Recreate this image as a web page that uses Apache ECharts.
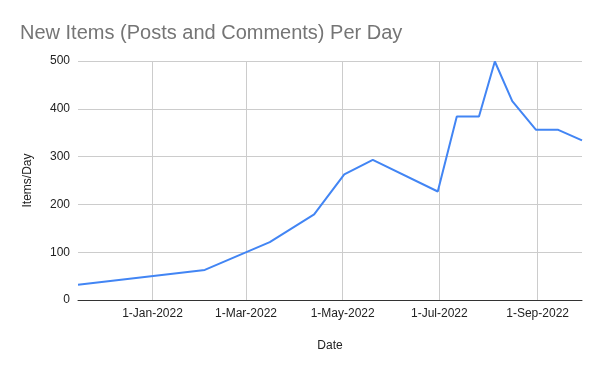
<!DOCTYPE html>
<html><head><meta charset="utf-8">
<script src="https://cdn.jsdelivr.net/npm/echarts@6/dist/echarts.min.js"></script>
<style>html,body{margin:0;padding:0;background:#fff}#c{width:600px;height:371px}</style>
</head><body><div id="c"></div>
<script>
var dates = ['2021-11-15','2022-02-03','2022-03-16','2022-04-13','2022-05-02','2022-05-20','2022-06-30','2022-07-12','2022-07-26','2022-08-05','2022-08-16','2022-08-31','2022-09-14','2022-09-29'];
var values = [32, 63, 121, 179, 263, 293, 227, 384, 384, 499, 416, 356, 356, 334];
var xTickDates = ['2022-01-01','2022-03-01','2022-05-01','2022-07-01','2022-09-01'];
var yTicks = [0, 100, 200, 300, 400, 500];
var months = ['Jan','Feb','Mar','Apr','May','Jun','Jul','Aug','Sep','Oct','Nov','Dec'];

function ts(s){ var p = s.split('-'); return Date.UTC(+p[0], +p[1]-1, +p[2]); }
var tickTs = xTickDates.map(ts);
var font = 'Arial, "Liberation Sans", sans-serif';

var chart = echarts.init(document.getElementById('c'), null, {renderer:'canvas'});
chart.setOption({
  animation: false,
  title: {text: 'New Items (Posts and Comments) Per Day', left: 15, top: 18,
    textStyle: {fontFamily: font, fontSize: 20, fontWeight: 'normal', color: '#757575'}},
  grid: {left: 78, right: 18, top: 61, bottom: 71, containLabel: false},
  xAxis: {
    type: 'value', min: ts('2021-11-15'), max: ts('2022-09-29'),
    name: 'Date', nameLocation: 'middle', nameGap: 40,
    nameTextStyle: {fontFamily: font, fontSize: 12, color: '#222'},
    axisLine: {show: true, onZero: false, lineStyle: {color: '#333', width: 1}},
    axisTick: {show: false, customValues: tickTs},
    axisLabel: {customValues: tickTs, fontFamily: font, fontSize: 12, color: '#222', margin: 8,
      formatter: function(v){ var d = new Date(v); return d.getUTCDate()+'-'+months[d.getUTCMonth()]+'-'+d.getUTCFullYear(); }},
    splitLine: {show: false}
  },
  yAxis: {
    type: 'value', min: yTicks[0], max: yTicks[yTicks.length-1], interval: 100,
    name: 'Items/Day', nameLocation: 'middle', nameGap: 44,
    nameTextStyle: {fontFamily: font, fontSize: 12, color: '#222', padding: [0, 0, 0, 0]},
    axisLine: {show: false}, axisTick: {show: false},
    axisLabel: {fontFamily: font, fontSize: 12, color: '#222', margin: 8},
    splitLine: {show: true, lineStyle: {color: '#cccccc', width: 1}}
  },
  series: [{
    type: 'line', data: dates.map(function(d,i){ return [ts(d), values[i]]; }),
    showSymbol: false, symbol: 'none', z: 3,
    lineStyle: {color: '#4285F4', width: 2}, itemStyle: {color: '#4285F4'},
    markLine: {silent: true, symbol: 'none', label: {show: false}, z: 1,
      lineStyle: {color: '#cccccc', width: 1, type: 'solid'},
      data: tickTs.map(function(t){ return {xAxis: t}; })}
  }]
});
</script></body></html>
